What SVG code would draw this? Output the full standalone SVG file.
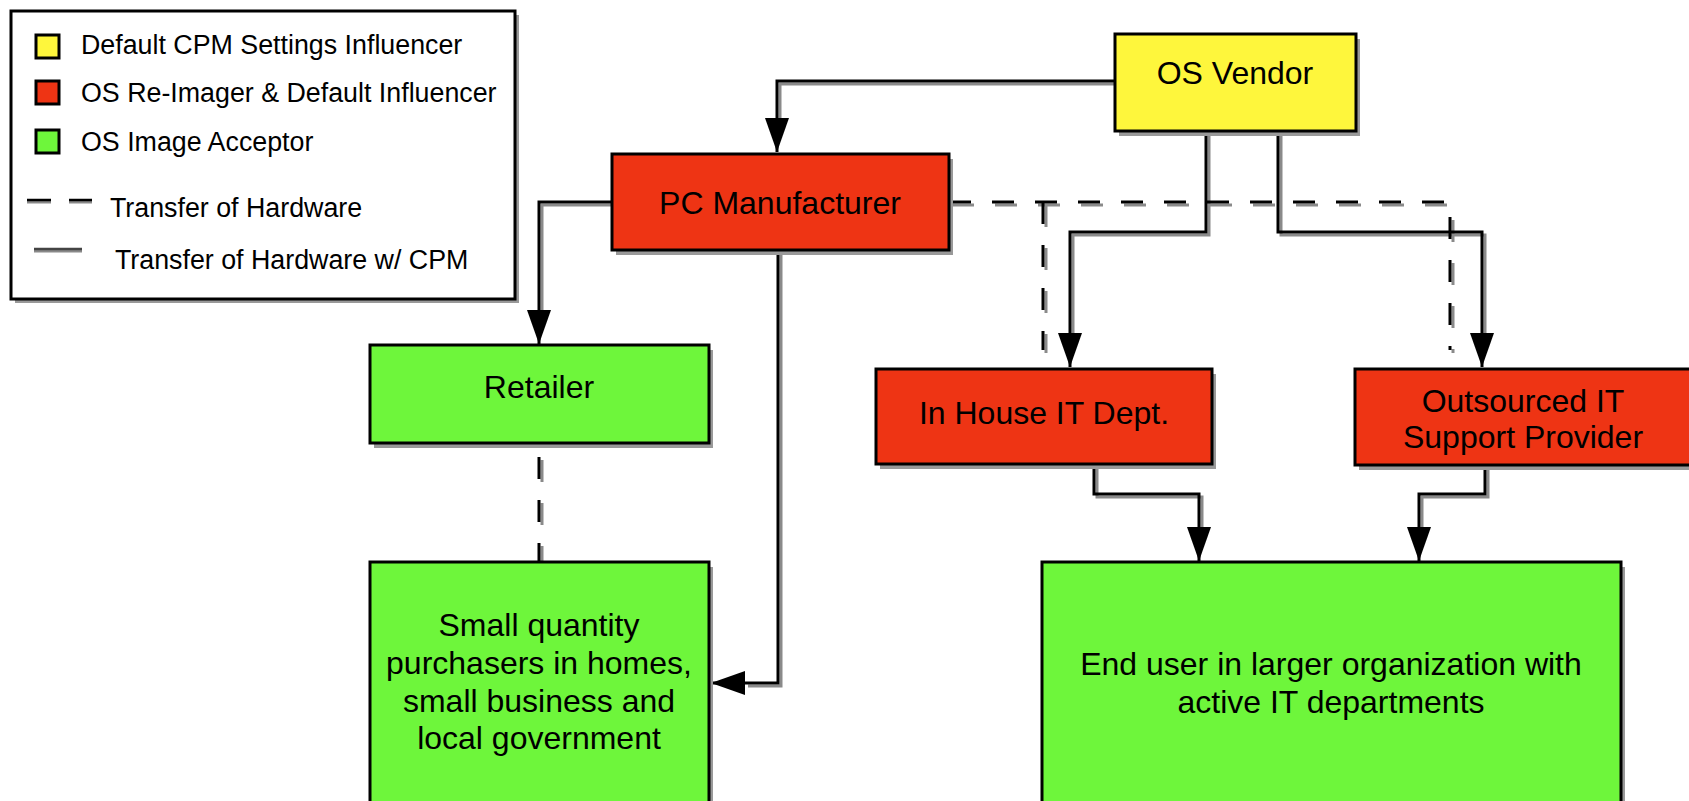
<svg xmlns="http://www.w3.org/2000/svg" width="1689" height="801" viewBox="0 0 1689 801">
<defs>
<style>
.box{stroke:#000;stroke-width:3}
.shadow{fill:#999}
.y{fill:#FEF63C}
.r{fill:#EE3414}
.g{fill:#6EF63B}
.t{font-family:"Liberation Sans",Arial,sans-serif;font-size:32px;fill:#000;text-anchor:middle}
.lt{font-family:"Liberation Sans",Arial,sans-serif;font-size:26.8px;fill:#000}
.ln{fill:none;stroke:#000;stroke-width:3}
.lns{fill:none;stroke:#8a8a8a;stroke-width:3}
.dash{stroke-dasharray:22 21}
</style>
<marker id="arr" viewBox="0 0 34 24" refX="34" refY="12" markerWidth="34" markerHeight="24" markerUnits="userSpaceOnUse" orient="auto">
<path d="M0,0 L34,12 L0,24 Z" fill="#000"/>
</marker>
</defs>
<rect width="1689" height="801" fill="#fff"/>

<g id="legend">
<rect class="shadow" x="15" y="15" width="504" height="288"/>
<rect x="11" y="11" width="504" height="288" fill="#fff" stroke="#000" stroke-width="3"/>
<rect class="y" x="36" y="35" width="23" height="23" stroke="#000" stroke-width="3"/>
<rect class="r" x="36" y="81" width="23" height="23" stroke="#000" stroke-width="3"/>
<rect class="g" x="36" y="130" width="23" height="23" stroke="#000" stroke-width="3"/>
<text class="lt" x="81" y="54">Default CPM Settings Influencer</text>
<text class="lt" x="81" y="102">OS Re-Imager &amp; Default Influencer</text>
<text class="lt" x="81" y="151">OS Image Acceptor</text>
<line x1="27" y1="202" x2="51" y2="202" stroke="#8a8a8a" stroke-width="3"/>
<line x1="69" y1="202" x2="92" y2="202" stroke="#8a8a8a" stroke-width="3"/>
<line x1="27" y1="200" x2="51" y2="200" stroke="#000" stroke-width="2.5"/>
<line x1="69" y1="200" x2="92" y2="200" stroke="#000" stroke-width="2.5"/>
<text class="lt" x="110" y="217">Transfer of Hardware</text>
<line x1="34" y1="251" x2="82" y2="251" stroke="#8a8a8a" stroke-width="3"/>
<line x1="34" y1="249" x2="82" y2="249" stroke="#444" stroke-width="2.5"/>
<text class="lt" x="115" y="269">Transfer of Hardware w/ CPM</text>
</g>

<g id="connectors">
<g transform="translate(3,3)">
<polyline class="lns" points="1115,81 777,81 777,118"/>
<polyline class="lns" points="612,202 539,202 539,311"/>
<polyline class="lns" points="778,250 778,683 745,683"/>
<polyline class="lns dash" points="949,202 1450,202 1450,350"/>
<polyline class="lns dash" points="1043,202 1043,350"/>
<polyline class="lns dash" points="539,457 539,562"/>
<polyline class="lns" points="1206,131 1206,232 1070,232 1070,333"/>
<polyline class="lns" points="1278,131 1278,232 1482,232 1482,333"/>
<polyline class="lns" points="1094,464 1094,494 1199,494 1199,527"/>
<polyline class="lns" points="1485,465 1485,494 1419,494 1419,527"/>
</g>
<polyline class="ln" points="1115,81 777,81 777,152" marker-end="url(#arr)"/>
<polyline class="ln" points="612,202 539,202 539,344" marker-end="url(#arr)"/>
<polyline class="ln" points="778,250 778,683 711,683" marker-end="url(#arr)"/>
<polyline class="ln dash" points="949,202 1450,202 1450,350"/>
<polyline class="ln dash" points="1043,202 1043,350"/>
<polyline class="ln dash" points="539,457 539,562"/>
<polyline class="ln" points="1206,131 1206,232 1070,232 1070,367" marker-end="url(#arr)"/>
<polyline class="ln" points="1278,131 1278,232 1482,232 1482,367" marker-end="url(#arr)"/>
<polyline class="ln" points="1094,464 1094,494 1199,494 1199,561" marker-end="url(#arr)"/>
<polyline class="ln" points="1485,465 1485,494 1419,494 1419,561" marker-end="url(#arr)"/>
</g>

<g id="os-vendor">
<rect class="shadow" x="1119" y="39" width="241" height="97"/>
<rect class="box y" x="1115" y="34" width="241" height="97"/>
<text class="t" x="1235" y="84">OS Vendor</text>
</g>

<g id="pc-manufacturer">
<rect class="shadow" x="616" y="159" width="337" height="96"/>
<rect class="box r" x="612" y="154" width="337" height="96"/>
<text class="t" x="780" y="214">PC Manufacturer</text>
</g>

<g id="retailer">
<rect class="shadow" x="374" y="350" width="339" height="98"/>
<rect class="box g" x="370" y="345" width="339" height="98"/>
<text class="t" x="539" y="398">Retailer</text>
</g>

<g id="in-house-it">
<rect class="shadow" x="880" y="374" width="336" height="95"/>
<rect class="box r" x="876" y="369" width="336" height="95"/>
<text class="t" x="1044" y="424">In House IT Dept.</text>
</g>

<g id="outsourced-it">
<rect class="shadow" x="1359" y="374" width="340" height="96"/>
<rect class="box r" x="1355" y="369" width="340" height="96"/>
<text class="t" x="1523" y="412">Outsourced IT</text>
<text class="t" x="1523" y="448">Support Provider</text>
</g>

<g id="small-purchasers">
<rect class="shadow" x="374" y="567" width="339" height="250"/>
<rect class="box g" x="370" y="562" width="339" height="250"/>
<text class="t" x="539" y="636">Small quantity</text>
<text class="t" x="539" y="674">purchasers in homes,</text>
<text class="t" x="539" y="712">small business and</text>
<text class="t" x="539" y="749">local government</text>
</g>

<g id="end-user">
<rect class="shadow" x="1046" y="567" width="579" height="250"/>
<rect class="box g" x="1042" y="562" width="579" height="250"/>
<text class="t" x="1331" y="675">End user in larger organization with</text>
<text class="t" x="1331" y="713">active IT departments</text>
</g>
</svg>
